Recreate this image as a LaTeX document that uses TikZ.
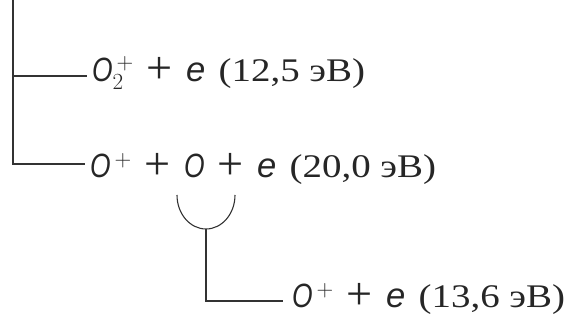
\RequirePackage{fix-cm}
\documentclass[tikz,border=0pt]{standalone}
\usepackage{amsmath}
\usepackage{fontspec}
\setmainfont{Liberation Serif}
\newfontfamily\prodsans{Liberation Sans}
\usetikzlibrary{positioning,calc}
\newcommand{\Ox}{\text{\prodsans\itshape\scalebox{0.8}[1.02]{O}}}
\newcommand{\el}{\text{\prodsans\itshape\scalebox{1.05}{e}}}
\newcommand{\pl}{\hspace{0.4em}\raisebox{-0.06em}{\scalebox{1.4}{+}}\hspace{0.4em}}
\newcommand{\ev}[1]{\hspace{0.4em}\scalebox{1.18}[1]{(#1 эВ)}}
\tikzset{
  ln/.style={line width=1.1pt,draw=black!80},
  prd/.style={anchor=base west,inner xsep=5pt,inner ysep=0pt,
              font=\fontsize{33}{38}\selectfont,text=black!85},
}
\begin{document}
\begin{tikzpicture}[x=1pt,y=-1pt]
  \useasboundingbox (0,0) rectangle (568,320);
  % dissociation branches
  \coordinate (top) at (13,0);
  \coordinate (k1) at (13,76);
  \coordinate (k2) at (13,164);
  \node[prd] (p1) at (87,82) {\Ox$^{\,+}_{2}$\pl\el\ev{12,5}};
  \node[prd] (p2) at (85,178) {\Ox$^{\,+}$\pl\Ox\pl\el\ev{20,0}};
  \node[prd,inner xsep=9pt] (p3) at (283,308) {\Ox$^{\,+}$\pl\el\ev{13,6}};
  \draw[ln] (top) -- (k2) -- (k2 -| p2.west);
  \draw[ln] (k1) -- (k1 -| p1.west);
  % ionisation of O
  \coordinate (a1) at (177,195);
  \coordinate (ab) at (206,229);
  \coordinate (k3) at (206,301);
  \draw[ln] (a1) arc[start angle=180,end angle=0,x radius=29,y radius=34];
  \draw[ln] (ab) -- (k3) -- (k3 -| p3.west);
\end{tikzpicture}
\end{document}
